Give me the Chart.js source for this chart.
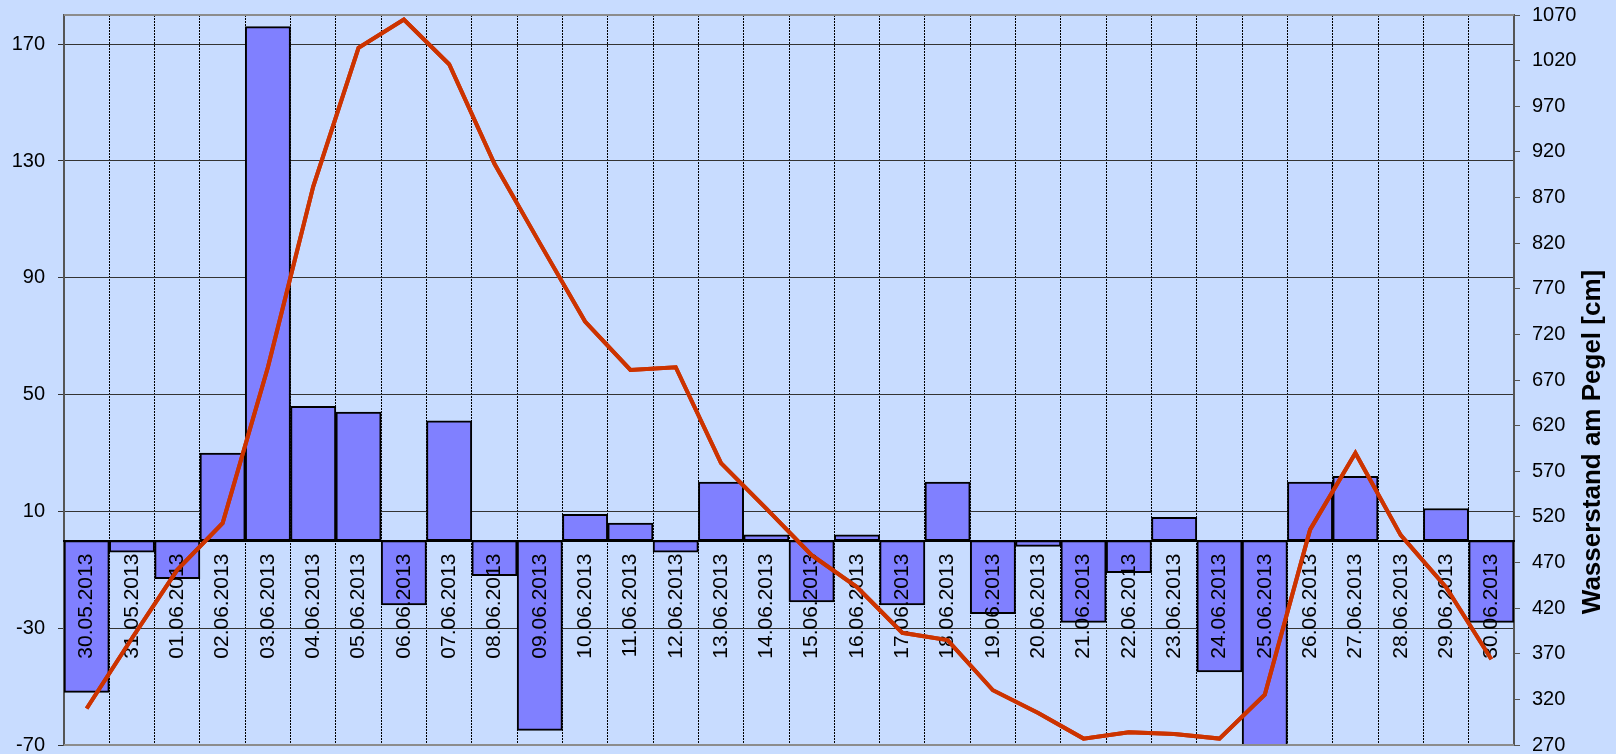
<!DOCTYPE html>
<html>
<head>
<meta charset="utf-8">
<script src="https://cdn.jsdelivr.net/npm/chart.js@4"></script>
<style>
  body { margin: 0; background: #C8DCFF; }
  #wrap { width: 1616px; height: 754px; position: relative; }
</style>
</head>
<body>
<div id="wrap"><canvas id="pegelChart"></canvas></div>
<script>
// Tage
const days = [
    '30.05.2013', '31.05.2013', '01.06.2013', '02.06.2013', '03.06.2013', '04.06.2013',
    '05.06.2013', '06.06.2013', '07.06.2013', '08.06.2013', '09.06.2013', '10.06.2013',
    '11.06.2013', '12.06.2013', '13.06.2013', '14.06.2013', '15.06.2013', '16.06.2013',
    '17.06.2013', '18.06.2013', '19.06.2013', '20.06.2013', '21.06.2013', '22.06.2013',
    '23.06.2013', '24.06.2013', '25.06.2013', '26.06.2013', '27.06.2013', '28.06.2013',
    '29.06.2013', '30.06.2013'
];

// Balken (linke Achse)
const barValues = [
    -52, -4, -13, 30, 176, 46, 44, -22, 41, -12, -65, 9,
    6, -4, 20, 2, -21, 2, -22, 20, -25, -2, -28, -11,
    8, -45, -78, 20, 22, 0, 11, -28
];

// Wasserstand am Pegel [cm] (rechte Achse)
const levelValues = [
    310, 387, 462, 513, 684, 882, 1034, 1065, 1016, 907, 820, 734,
    681, 684, 579, 529, 478, 443, 393, 385, 330, 305, 277, 284,
    282, 277, 325, 506, 590, 500, 443, 364
];

const leftTicks = [-70, -30, 10, 50, 90, 130, 170];
const rightTicks = [270, 320, 370, 420, 470, 520, 570, 620, 670, 720, 770, 820, 870, 920, 970, 1020, 1070];
const rightTitle = 'Wasserstand am Pegel [cm]';

const FONT = "'Liberation Sans', Arial, sans-serif";
Chart.defaults.font.family = FONT;
Chart.defaults.color = '#000';

// feste Breite der y-Achsen, kein Extra-Rand fuer die Randbeschriftungen
function fixAxis(width) {
    return s => {
        s.width = width;
        s.paddingTop = 0;
        s.paddingBottom = 0;
    };
}

// Rahmen oben/unten, Linie nochmal ueber die Datumstexte, Achsentitel rechts
const extras = {
    id: 'extras',
    afterDraw(chart) {
        const ctx = chart.ctx;
        const area = chart.chartArea;

        // Wasserstand-Linie liegt ueber den Beschriftungen
        chart.getDatasetMeta(1).controller.draw();

        ctx.save();
        ctx.strokeStyle = '#8c8c8c';
        ctx.lineWidth = 2;
        ctx.beginPath();
        ctx.moveTo(area.left, area.top);
        ctx.lineTo(area.right, area.top);
        ctx.moveTo(area.left, area.bottom);
        ctx.lineTo(area.right, area.bottom);
        ctx.stroke();

        ctx.translate(1600, 442);
        ctx.rotate(-Math.PI / 2);
        ctx.font = 'bold 26px ' + FONT;
        ctx.fillStyle = '#000';
        ctx.textAlign = 'center';
        ctx.textBaseline = 'alphabetic';
        ctx.fillText(rightTitle, 0, 0);
        ctx.restore();
    }
};

new Chart(document.getElementById('pegelChart'), {
    type: 'bar',
    data: {
        labels: days,
        datasets: [
            {
                type: 'bar',
                data: barValues,
                yAxisID: 'y',
                backgroundColor: '#8080FF',
                borderColor: '#000',
                borderWidth: 2,
                borderSkipped: false,
                categoryPercentage: 1,
                barPercentage: 1,
                order: 2
            },
            {
                type: 'line',
                data: levelValues,
                yAxisID: 'y2',
                borderColor: '#CC3300',
                borderWidth: 4,
                pointRadius: 0,
                tension: 0,
                fill: false,
                order: 1
            }
        ]
    },
    options: {
        responsive: true,
        maintainAspectRatio: false,
        animation: false,
        layout: { padding: { top: 15, bottom: 9, left: 0, right: 0 } },
        plugins: {
            legend: { display: false },
            tooltip: { enabled: false }
        },
        scales: {
            x: {
                position: { y: 0 },
                offset: true,
                grid: {
                    color: '#000',
                    lineWidth: 1,
                    offset: true,
                    drawTicks: false
                },
                border: { display: true, color: '#000', width: 2, dash: [2, 1], z: 1 },
                ticks: {
                    z: 1,
                    autoSkip: false,
                    minRotation: 90,
                    maxRotation: 90,
                    padding: 13,
                    font: { size: 21 },
                    color: '#000'
                }
            },
            y: {
                position: 'left',
                min: -70,
                max: 180,
                afterBuildTicks: s => { s.ticks = leftTicks.map(v => ({ value: v })); },
                afterFit: fixAxis(64),
                grid: { color: '#333', lineWidth: 1, tickLength: 6 },
                border: { color: '#555', width: 2 },
                ticks: { padding: 13, font: { size: 20 }, color: '#000', callback: v => String(v) }
            },
            y2: {
                position: 'right',
                min: 270,
                max: 1070,
                afterBuildTicks: s => { s.ticks = rightTicks.map(v => ({ value: v })); },
                afterFit: fixAxis(102),
                grid: { drawOnChartArea: false, color: '#555', tickLength: 6 },
                border: { color: '#555', width: 2 },
                ticks: { padding: 12, font: { size: 20 }, color: '#000', callback: v => String(v) }
            }
        }
    },
    plugins: [extras]
});
</script>
</body>
</html>
